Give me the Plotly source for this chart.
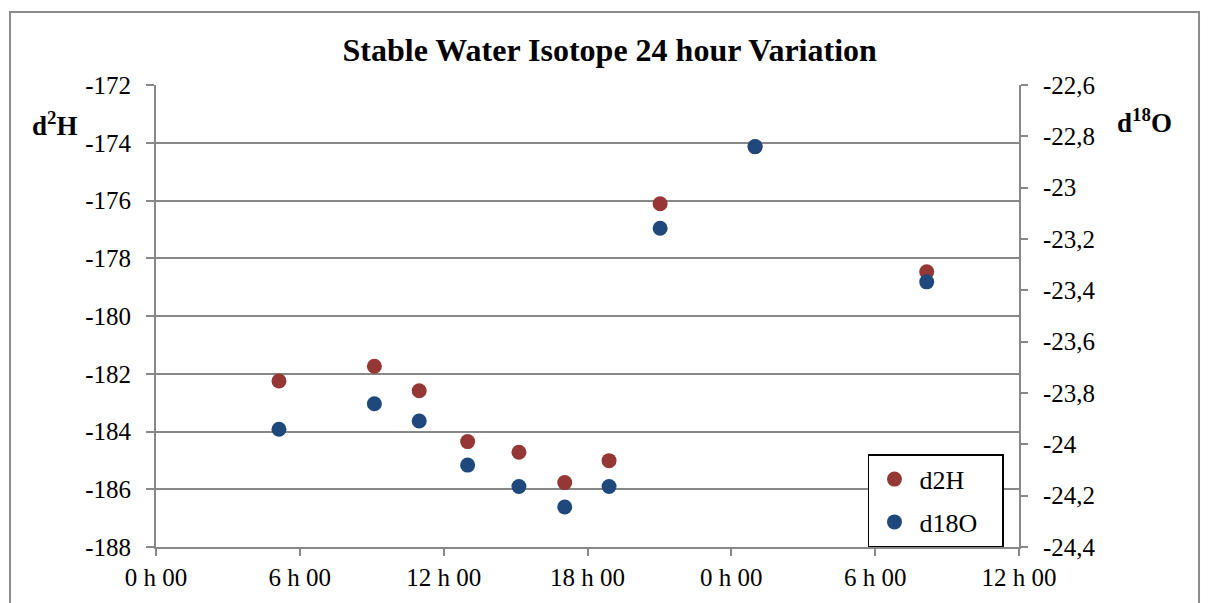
import plotly.graph_objects as go

# Time of sampling in hours since midnight of day 1
hours = [5.13, 9.11, 10.98, 13.0, 15.14, 17.05, 18.9, 21.03, 24.99, 32.15]
d2H = [-182.25, -181.74, -182.59, -184.35, -184.72, -185.77, -185.01, -176.11, -174.14, -178.47]
d18O = [-23.941, -23.842, -23.909, -24.081, -24.164, -24.244, -24.164, -23.158, -22.840, -23.367]

x_tickvals = [0, 6, 12, 18, 24, 30, 36]
x_ticktext = ["0 h 00", "6 h 00", "12 h 00", "18 h 00", "0 h 00", "6 h 00", "12 h 00"]
left_ticks = [-188, -186, -184, -182, -180, -178, -176, -174, -172]
left_ticktext = ["-188", "-186", "-184", "-182", "-180", "-178", "-176", "-174", "-172"]
right_ticks = [-24.4, -24.2, -24.0, -23.8, -23.6, -23.4, -23.2, -23.0, -22.8, -22.6]
right_ticktext = ["-24,4", "-24,2", "-24", "-23,8", "-23,6", "-23,4", "-23,2", "-23", "-22,8", "-22,6"]

FONT = "Liberation Serif"
GRID = "#888888"
TICKFONT = dict(family=FONT, size=25, color="black")
NB = "\u00a0"

fig = go.Figure()
fig.add_trace(go.Scatter(x=hours, y=d2H, mode="markers", name="d2H" + NB * 3, legendgroup="a",
                         marker=dict(size=15, color="#953735"), yaxis="y"))
fig.add_trace(go.Scatter(x=hours, y=d18O, mode="markers", name="d18O" + NB * 3, legendgroup="b",
                         marker=dict(size=15, color="#1F497D"), yaxis="y2"))

fig.update_layout(
    width=1201, height=595,
    margin=dict(l=148, r=190, t=77, b=50),
    paper_bgcolor="white", plot_bgcolor="white",
    font=dict(family=FONT, size=25, color="black"),
    title=dict(text="<b>Stable Water Isotope 24 hour Variation</b>",
               x=0.501, xanchor="center", y=0.929, yanchor="middle",
               font=dict(family=FONT, size=32, color="black")),
    xaxis=dict(range=[0, 36], tickvals=x_tickvals, ticktext=x_ticktext,
               showgrid=False, zeroline=False, showline=True, linecolor=GRID, linewidth=2,
               ticks="outside", ticklen=7, tickcolor=GRID, tickwidth=2,
               tickfont=TICKFONT),
    yaxis=dict(range=[-188, -172], tickvals=left_ticks, ticktext=left_ticktext,
               showgrid=True, gridcolor=GRID, gridwidth=2, zeroline=False,
               showline=True, linecolor=GRID, linewidth=2,
               ticks="outside", ticklen=8, tickcolor=GRID, tickwidth=2,
               ticklabelstandoff=10, tickfont=TICKFONT),
    yaxis2=dict(range=[-24.4, -22.6], tickvals=right_ticks, ticktext=right_ticktext,
                overlaying="y", side="right",
                showgrid=False, zeroline=False, showline=True, linecolor=GRID, linewidth=2,
                ticks="outside", ticklen=7, tickcolor=GRID, tickwidth=2,
                ticklabelstandoff=10, tickfont=TICKFONT),
    legend=dict(x=0.825, y=0.2009, xanchor="left", yanchor="top",
                bgcolor="white", bordercolor="black", borderwidth=1.5,
                font=dict(family=FONT, size=26, color="black"), itemsizing="trace",
                itemwidth=40, tracegroupgap=6),
    showlegend=True,
)

fig.add_annotation(text="<b>d<sup>2</sup>H</b>", xref="paper", yref="paper",
                   x=-0.117, y=0.915, xanchor="center", yanchor="middle", showarrow=False,
                   font=dict(family=FONT, size=27, color="black"))
fig.add_annotation(text="<b>d<sup>18</sup>O</b>", xref="paper", yref="paper",
                   x=1.146, y=0.922, xanchor="center", yanchor="middle", showarrow=False,
                   font=dict(family=FONT, size=27, color="black"))

fig.add_shape(type="rect", xref="paper", yref="paper",
              x0=-0.1692, x1=1.2086, y0=-0.15, y1=1.158,
              line=dict(color="#8c8c8c", width=2), fillcolor="rgba(0,0,0,0)", layer="below")

fig.write_html("out.html")
